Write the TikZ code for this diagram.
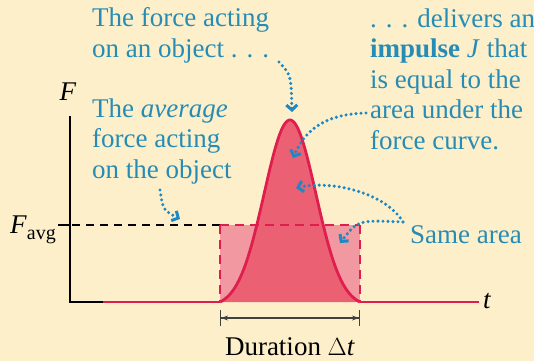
\documentclass[tikz,border=0pt]{standalone}
\usepackage{fontspec}
\setmainfont{Liberation Serif}
\usetikzlibrary{arrows.meta}
\definecolor{bgc}{RGB}{253,239,201}
\definecolor{txtblue}{RGB}{38,140,182}
\definecolor{arrblue}{RGB}{30,136,196}
\definecolor{curvered}{RGB}{224,30,78}
\definecolor{darkfill}{RGB}{236,96,116}
\definecolor{lightfill}{RGB}{242,152,160}
\tikzset{
  lbl/.style={inner sep=0pt, font=\fontsize{27}{30.5}\selectfont, text=txtblue, align=left, anchor=base west},
  blk/.style={inner sep=0pt, font=\fontsize{27}{30.5}\selectfont, text=black},
  dotarrow/.style={draw=arrblue, line width=3.4pt, dash pattern=on 0pt off 5pt, line cap=round,
    -{Straight Barb[length=5pt,width=11pt,line width=3pt]}},
  reddash/.style={draw=curvered, line width=2.8pt, dash pattern=on 9pt off 6pt},
  axis/.style={draw=black, line width=1.6pt},
}
\begin{document}
\begin{tikzpicture}[x=1pt,y=-1pt]
\useasboundingbox (0,0) rectangle (534,361);
\fill[bgc] (0,0) rectangle (534,361);
% light rectangle
\fill[lightfill] (220,225) rectangle (360,302);
% gaussian fill
\fill[darkfill] plot[domain=220:360,samples=90] (\x,{302-182*(exp(-((\x-290)^2)/1334)-0.0254)/0.9746}) -- cycle;
% axes
\draw[axis] (70,116) -- (70,302) -- (103,302);
\draw[draw=curvered, line width=2.8pt] (103,302) -- (220,302);
\draw[draw=curvered, line width=2.8pt] (360,302) -- (479,302);
\draw[curvered, line width=2.8pt] plot[domain=220:360,samples=90] (\x,{302-182*(exp(-((\x-290)^2)/1334)-0.0254)/0.9746});
% dashed lines
\draw[black, line width=1.4pt, dash pattern=on 8pt off 6pt] (58,225) -- (220,225);
\draw[black, line width=1.4pt] (58,225) -- (70,225);
\draw[reddash] (220,225) -- (360,225);
\draw[reddash] (220,225) -- (220,302);
\draw[reddash] (360,225) -- (360,302);
% labels
\node[blk, anchor=base] (F) at (68,100) {\textit{F}};
\node[blk, anchor=base east] (Favg) at (56,233) {\textit{F}\raisebox{-6pt}{\fontsize{20}{20}\selectfont avg}};
\node[blk, anchor=base west] (t) at (483,308) {\textit{t}};
\node[blk, anchor=base] (dur) at (290,355) {Duration \(\Delta\)\textit{t}};
\coordinate (dl) at (220,318);
\coordinate (dr) at (360,318);
\draw[black!75, line width=1.1pt, {Bar[width=16pt]Stealth[length=7pt,width=5pt]}-{Stealth[length=7pt,width=5pt]Bar[width=16pt]}] (dl) -- (dr);
% multi-line labels: anchored at the baseline of their last line
\node[lbl] (force) at (92,57) {The force acting\\on an object . . .};
\node[lbl] (imp) at (370,149) {. . . delivers an\\\textbf{impulse} \textit{J} that\\is equal to the\\area under the\\force curve.};
\node[lbl] (avg) at (92,178) {The \textit{average}\\force acting\\on the object};
\node[lbl] (same) at (410,243) {Same area};
% arrow points
\coordinate (a1s) at (279,62);
\coordinate (a1e) at (292,112);
\coordinate (a2s) at (366,113);
\coordinate (a2e) at (293,158);
\coordinate (a3s) at (403,222);
\coordinate (a3e) at (296,188);
\coordinate (a4e) at (340,243);
\coordinate (a5s) at (160,190);
\coordinate (a5e) at (180,219);
\draw[dotarrow] (a1s) .. controls (291,75) .. (a1e);
\draw[dotarrow] (a2s) .. controls (325,114) and (305,130) .. (a2e);
\draw[dotarrow] (a3s) .. controls (385,192) and (330,180) .. (a3e);
\draw[dotarrow] (a3s) .. controls (358,220) .. (a4e);
\draw[dotarrow] (a5s) .. controls (163,210) .. (a5e);
\end{tikzpicture}
\end{document}
